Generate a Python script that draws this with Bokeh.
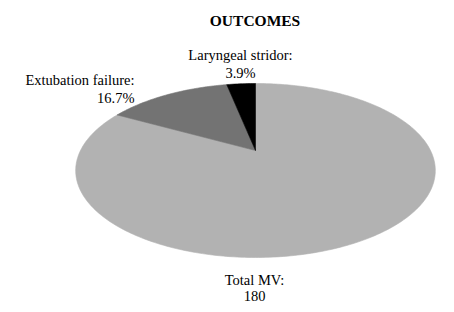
import numpy as np
from bokeh.plotting import figure
from bokeh.models import Range1d, ColumnDataSource, Label
from bokeh.embed import file_html
from bokeh.resources import INLINE

# ---- data ----
categories = ["Total MV", "Extubation failure", "Laryngeal stridor"]
counts = [180, 30, 7]
colors = ["#b2b2b2", "#737373", "#000000"]
title_text = "OUTCOMES"

# ---- layout (page pixel coordinates) ----
CX, CY = 255.0, 150.0   # apex of the perspective pie
A = 175.0               # horizontal scale
B = 82.4                # vertical scale
K = 0.23                # perspective factor
FONT = "Liberation Serif"
DY = -3.5               # baseline correction

W, H = 446, 304
p = figure(width=W, height=H, output_backend="svg", toolbar_location=None,
           x_range=Range1d(0, W), y_range=Range1d(H, 0), min_border=0)
p.axis.visible = False
p.grid.visible = False
p.outline_line_color = None
p.background_fill_color = "white"
p.border_fill_color = "white"


def proj(theta):
    d = 1 + K * np.sin(theta)
    return CX + A * np.cos(theta) / d, CY - B * np.sin(theta) / d


total = sum(counts)
fracs = [c / total for c in counts]
# slices run clockwise from 12 o'clock
start = np.pi / 2
xs, ys = [], []
for f in fracs:
    end = start - f * 2 * np.pi
    th = np.linspace(start, end, max(8, int(400 * f)))
    px, py = proj(th)
    xs.append([CX] + list(px) + [CX])
    ys.append([CY] + list(py) + [CY])
    start = end

src = ColumnDataSource(dict(xs=xs, ys=ys, color=colors))
p.patches("xs", "ys", source=src, fill_color="color", line_color="color", line_width=0.6)

# ---- texts ----
ref = counts[0]
label_lines = [
    [f"{categories[0]}:", f"{counts[0]}"],
    [f"{categories[1]}:", f"{counts[1] / ref * 100:.1f}%"],
    [f"{categories[2]}:", f"{counts[2] / ref * 100:.1f}%"],
]
label_pos = [(254, 282.5, "center", 16.0), (134, 83, "right", 17.5), (240, 58, "center", 17.5)]
for lines, (lx, ly, al, lh) in zip(label_lines, label_pos):
    for i, t in enumerate(lines):
        p.add_layout(Label(x=lx, y=ly + DY + lh * i, text=t, text_align=al,
                           text_baseline="alphabetic", text_font=FONT,
                           text_font_size="14.5px", text_color="#000000"))

p.add_layout(Label(x=254.5, y=23 + DY, text=title_text, text_align="center",
                   text_baseline="alphabetic", text_font=FONT, text_font_style="bold",
                   text_font_size="15.5px", text_color="#000000"))

open("out.html", "w").write(file_html(p, INLINE))
